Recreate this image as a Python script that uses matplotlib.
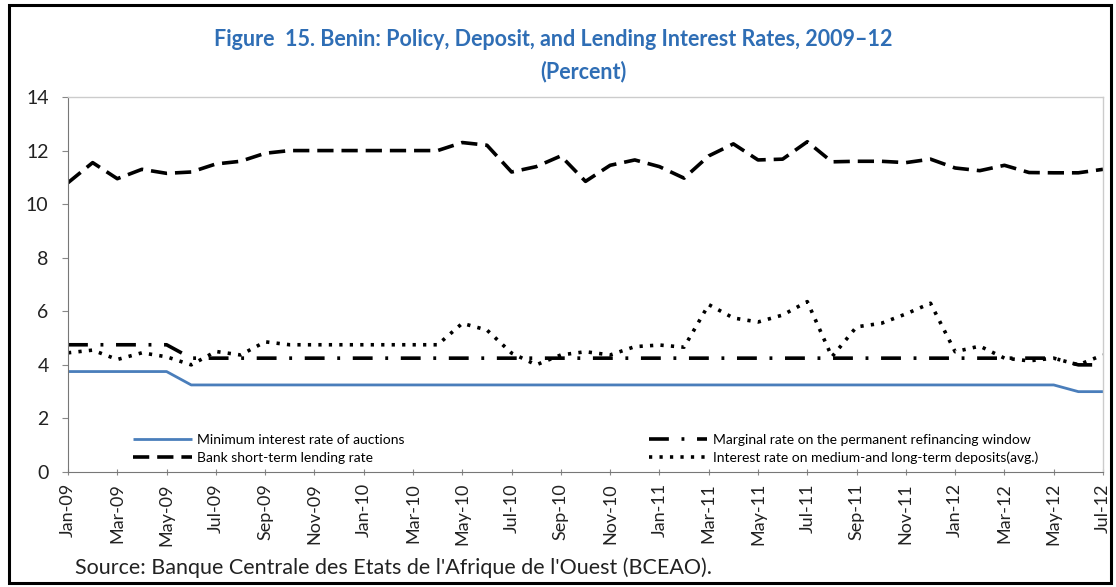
import matplotlib
matplotlib.use("Agg")
import matplotlib.pyplot as plt
from matplotlib.patches import Rectangle

months = ["Jan-09","Feb-09","Mar-09","Apr-09","May-09","Jun-09","Jul-09","Aug-09","Sep-09","Oct-09","Nov-09","Dec-09",
          "Jan-10","Feb-10","Mar-10","Apr-10","May-10","Jun-10","Jul-10","Aug-10","Sep-10","Oct-10","Nov-10","Dec-10",
          "Jan-11","Feb-11","Mar-11","Apr-11","May-11","Jun-11","Jul-11","Aug-11","Sep-11","Oct-11","Nov-11","Dec-11",
          "Jan-12","Feb-12","Mar-12","Apr-12","May-12","Jun-12","Jul-12"]

min_auction = [3.75]*5 + [3.25]*36 + [3.0]*2
marginal = [4.75]*5 + [4.25]*36 + [4.0]*2
lending = [10.8, 11.55, 10.95, 11.3, 11.15, 11.2, 11.5, 11.6, 11.9, 12.0, 12.0, 12.0,
           12.0, 12.0, 12.0, 12.0, 12.3, 12.2, 11.2, 11.4, 11.8, 10.85, 11.45, 11.65,
           11.4, 10.97, 11.8, 12.25, 11.65, 11.68, 12.33, 11.58, 11.6, 11.6, 11.55, 11.68,
           11.35, 11.25, 11.45, 11.18, 11.17, 11.17, 11.3]
deposits = [4.45, 4.55, 4.2, 4.45, 4.3, 4.0, 4.5, 4.37, 4.86, 4.75, 4.75, 4.75,
            4.75, 4.75, 4.75, 4.75, 5.55, 5.3, 4.44, 4.0, 4.37, 4.49, 4.37, 4.68,
            4.74, 4.66, 6.25, 5.75, 5.6, 5.86, 6.36, 4.3, 5.42, 5.55, 5.9, 6.3,
            4.49, 4.7, 4.25, 4.15, 4.25, 4.0, 4.37]

labels = ["Minimum interest rate of auctions",
          "Bank short-term lending rate",
          "Marginal rate on the permanent refinancing window",
          "Interest rate on medium-and long-term deposits(avg.)"]

W, H = 1116, 587
plt.rcParams['font.family'] = ['Lato', 'DejaVu Sans']
fig = plt.figure(figsize=(W/100, H/100), dpi=100)

ax = fig.add_axes([68/W, 1-472/H, (1103-68)/W, (472-97)/H])
x = list(range(len(months)))

l1, = ax.plot(x, min_auction, color='#4a7ebb', lw=2.0, solid_capstyle='butt')
l2, = ax.plot(x, lending, color='black', lw=2.6, dashes=(4.5, 2.2))
l3, = ax.plot(x, marginal, color='black', lw=2.6, dashes=(5.5, 3.5, 0.8, 3.5))
l4, = ax.plot(x, deposits, color='black', lw=2.6, dashes=(0.9, 2.0))

ax.set_xlim(0, 42)
ax.set_ylim(0, 14)
ax.set_yticks(range(0, 15, 2))
ax.set_xticks(x[::2])
ax.set_xticklabels(months[::2], rotation=90, fontsize=13, color='#222222')
ax.tick_params(axis='y', labelsize=14, length=4, color='#888888', pad=10, labelcolor='#222222')
ax.tick_params(axis='x', length=4, color='#888888', direction='inout', pad=6)
for s in ['top', 'right']:
    ax.spines[s].set_color('#cccccc')
    ax.spines[s].set_linewidth(1.0)
ax.spines['left'].set_color('#777777')
ax.spines['bottom'].set_color('#777777')

leg1 = ax.legend([l1, l2], labels[:2], loc='lower left', bbox_to_anchor=(0.055, 0.0),
                 frameon=False, fontsize=10, handlelength=4.2, handletextpad=0.4,
                 labelspacing=0.4, borderaxespad=0.2)
ax.add_artist(leg1)
ax.legend([l3, l4], labels[2:], loc='lower left', bbox_to_anchor=(0.553, 0.0),
          frameon=False, fontsize=10, handlelength=4.2, handletextpad=0.4,
          labelspacing=0.4, borderaxespad=0.2)

fig.text(553/W, 1-40/H, "Figure  15. Benin: Policy, Deposit, and Lending Interest Rates, 2009\u201312",
         ha='center', va='center', fontsize=15.5, fontweight='bold', color='#2f6eb5')
fig.text(583/W, 1-72/H, "(Percent)", ha='center', va='center', fontsize=15.5,
         fontweight='bold', color='#2f6eb5')
fig.text(75/W, 1-568/H, "Source: Banque Centrale des Etats de l'Afrique de l'Ouest (BCEAO).",
         ha='left', va='center', fontsize=15.5, color='#222222')

fig.patches.append(Rectangle((9/W, 4/H), (1111-9)/W, (582-4)/H, transform=fig.transFigure,
                             fill=False, edgecolor='black', lw=2.2))

fig.savefig("out.png", dpi=100)
